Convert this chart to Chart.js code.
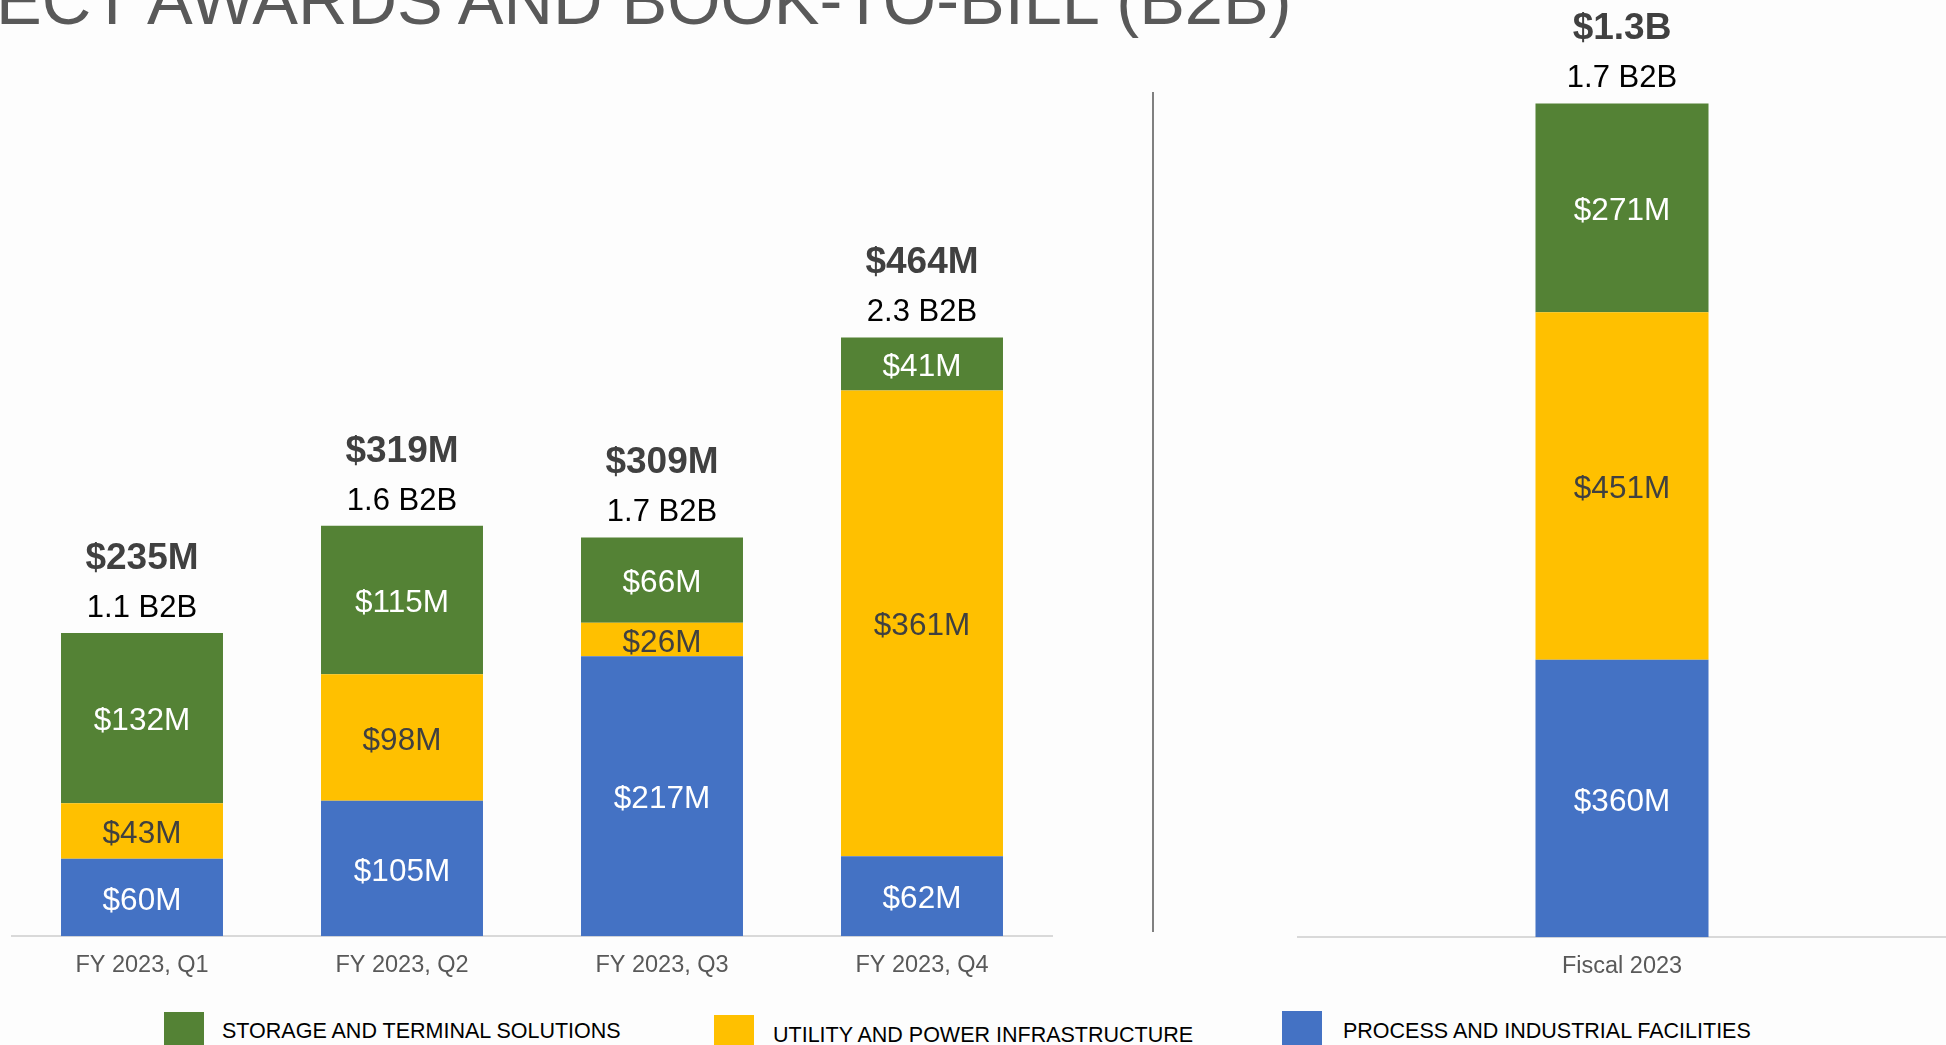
<!DOCTYPE html>
<html>
<head>
<meta charset="utf-8">
<script src="https://cdn.jsdelivr.net/npm/chart.js@4/dist/chart.umd.min.js"></script>
<style>
  html, body { margin: 0; padding: 0; background: #fdfdfd; overflow: hidden; }
  body { width: 1946px; height: 1045px; position: relative; font-family: "Liberation Sans", Arial, sans-serif; }
  .box { position: absolute; }
  #title { position: absolute; left: -4px; top: -33px; font-size: 68.5px; line-height: 68.5px; color: #595959; white-space: nowrap; }
  #divider { position: absolute; left: 1152px; top: 92px; width: 2px; height: 840px; background: #808080; }
  .leg { position: absolute; white-space: nowrap; font-size: 21.5px; line-height: 21px; color: #000; }
  .sw { position: absolute; width: 40px; height: 40px; }
</style>
</head>
<body>
<div id="title">ECT AWARDS AND BOOK-TO-BILL (B2B)</div>
<div class="box" style="left:0;top:0;width:1100px;height:995px;"><canvas id="quarterChart"></canvas></div>
<div class="box" style="left:1100px;top:0;width:846px;height:996px;"><canvas id="yearChart"></canvas></div>
<div id="divider"></div>
<div id="legend"></div>
<script>
// quarterly awards ($M)
const quarters = ["FY 2023, Q1", "FY 2023, Q2", "FY 2023, Q3", "FY 2023, Q4"];
const processQ = [60, 105, 217, 62];
const utilityQ = [43, 98, 26, 361];
const storageQ = [132, 115, 66, 41];
const totalQ = ["$235M", "$319M", "$309M", "$464M"];
const b2bQ = ["1.1", "1.6", "1.7", "2.3"];

// full year ($M)
const fiscal = ["Fiscal 2023"];
const processFY = [360];
const utilityFY = [451];
const storageFY = [271];
const totalFY = ["$1.3B"];
const b2bFY = ["1.7"];

const seriesNames = ["PROCESS AND INDUSTRIAL FACILITIES", "UTILITY AND POWER INFRASTRUCTURE", "STORAGE AND TERMINAL SOLUTIONS"];
const seriesColors = ["#4472c4", "#ffc000", "#548235"];
const labelColors = ["#ffffff", "#404040", "#ffffff"];

const FONT = "'Liberation Sans', Arial, sans-serif";

const barLabels = {
    id: "barLabels",
    afterDatasetsDraw(chart, args, opts) {
        const ctx = chart.ctx;
        ctx.save();
        ctx.textAlign = "center";
        chart.data.datasets.forEach((ds, i) => {
            const meta = chart.getDatasetMeta(i);
            ctx.font = "31.5px " + FONT;
            ctx.fillStyle = labelColors[i];
            ctx.textBaseline = "middle";
            meta.data.forEach((bar, j) => {
                ctx.fillText("$" + ds.data[j] + "M", bar.x, (bar.y + bar.base) / 2 + 3.5);
            });
        });
        // totals and book-to-bill above the stack
        const top = chart.getDatasetMeta(chart.data.datasets.length - 1);
        ctx.textBaseline = "alphabetic";
        top.data.forEach((bar, j) => {
            ctx.font = "31px " + FONT;
            ctx.fillStyle = "#000000";
            ctx.fillText(opts.b2b[j] + " B2B", bar.x, bar.y - 16);
            ctx.font = "bold 37px " + FONT;
            ctx.fillStyle = "#404040";
            ctx.fillText(opts.totals[j], bar.x, bar.y - 64);
        });
        ctx.restore();
    }
};

function makeChart(id, labels, sets, totals, b2b, yMax, pad, barPct) {
    return new Chart(document.getElementById(id).getContext("2d"), {
        type: "bar",
        data: {
            labels: labels,
            datasets: sets.map((d, i) => ({
                label: seriesNames[i],
                data: d,
                backgroundColor: seriesColors[i],
                borderWidth: 0,
                barPercentage: barPct,
                categoryPercentage: 1
            }))
        },
        options: {
            responsive: true,
            maintainAspectRatio: false,
            animation: false,
            layout: { padding: pad },
            plugins: {
                legend: { display: false },
                tooltip: { enabled: false },
                barLabels: { totals: totals, b2b: b2b }
            },
            scales: {
                x: {
                    stacked: true,
                    grid: { display: false, drawTicks: false },
                    border: { display: true, color: "#d9d9d9", width: 2 },
                    ticks: { color: "#595959", padding: 15.3, font: { family: FONT, size: 23.5 } }
                },
                y: {
                    stacked: true,
                    display: false,
                    min: 0,
                    max: yMax
                }
            }
        },
        plugins: [barLabels]
    });
}

makeChart("quarterChart", quarters, [processQ, utilityQ, storageQ], totalQ, b2bQ, 600,
    { left: 12, right: 48, top: 162, bottom: 0 }, 0.623);
makeChart("yearChart", fiscal, [processFY, utilityFY, storageFY], totalFY, b2bFY, 1150,
    { left: 198, right: 0, top: 51, bottom: 0 }, 0.267);

// legend, storage first as in the original slide
const legendPos = [
    { i: 2, sx: 164, sy: 1012, tx: 222, ty: 1021 },
    { i: 1, sx: 714, sy: 1015, tx: 773, ty: 1025 },
    { i: 0, sx: 1282, sy: 1011, tx: 1343, ty: 1021 }
];
const legend = document.getElementById("legend");
legendPos.forEach(p => {
    const sw = document.createElement("div");
    sw.className = "sw";
    sw.style.left = p.sx + "px";
    sw.style.top = p.sy + "px";
    sw.style.background = seriesColors[p.i];
    legend.appendChild(sw);
    const t = document.createElement("div");
    t.className = "leg";
    t.style.left = p.tx + "px";
    t.style.top = p.ty + "px";
    t.textContent = seriesNames[p.i];
    legend.appendChild(t);
});
</script>
</body>
</html>
